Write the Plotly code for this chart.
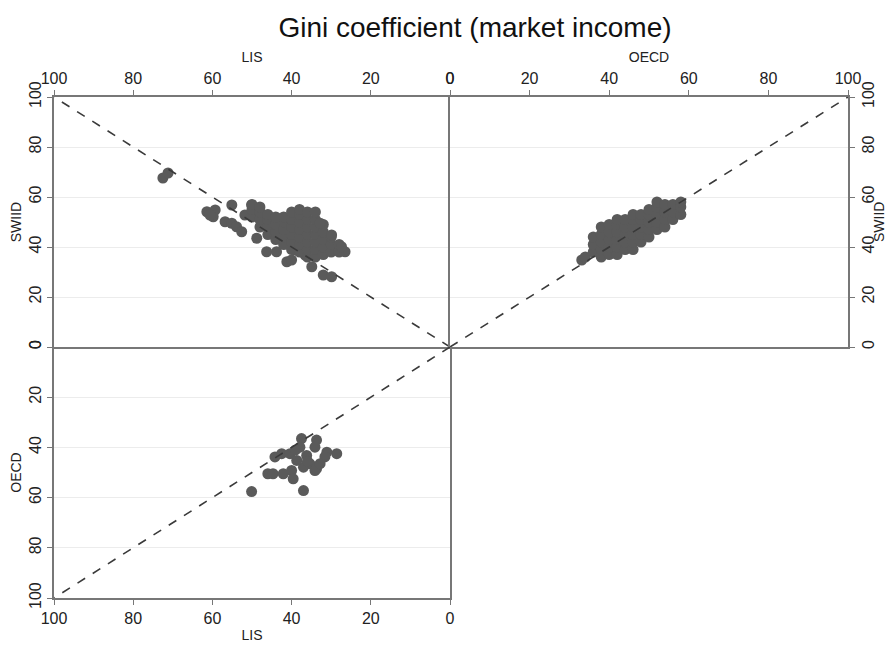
import plotly.graph_objects as go

# ---- Data ----
# Panel 1: LIS (x) vs SWIID (y)
lis_swiid_lis = [72.5, 71.2, 61.4, 59.3, 59.8, 60.6, 55.1, 56.8, 55.1, 53.9, 52.6, 51.8, 50.1,
                 48.8, 46.3, 43.8, 41.2, 40.0, 34.9, 32.0, 29.9, 26.5, 28.2, 36.6, 39.1,
                 50, 50, 50, 48, 48, 48, 48, 46, 46, 46, 46, 44, 44, 44, 44,
                 42, 42, 42, 42, 42, 40, 40, 40, 40, 40, 40, 38, 38, 38, 38, 38, 38, 38,
                 36, 36, 36, 36, 36, 36, 36, 34, 34, 34, 34, 34, 34, 34,
                 32, 32, 32, 32, 32, 30, 30, 30, 28, 28, 27.4, 29.9, 32.8]
lis_swiid_swiid = [67.6, 69.6, 54.1, 54.8, 52.1, 52.8, 56.8, 50.1, 49.5, 48.1, 46.1, 52.8, 56.8,
                   43.5, 38.1, 38.1, 34.1, 34.8, 32.1, 28.8, 28.1, 38.1, 38.8, 36.8, 38.8,
                   52, 55, 57, 48, 51, 54, 56, 45, 48, 51, 53, 43, 46, 49, 52,
                   41, 44, 47, 50, 52, 39, 42, 45, 48, 51, 54, 38, 41, 44, 47, 50, 53, 55,
                   36, 39, 42, 45, 48, 51, 54, 36, 39, 42, 45, 48, 51, 54,
                   37, 40, 43, 46, 49, 38, 41, 44, 38, 41, 40.1, 44.8, 49.5]

# Panel 2: OECD (x) vs SWIID (y)
oecd_swiid_oecd = [33.1, 34.0, 36, 36, 36, 38, 38, 38, 38, 38, 40, 40, 40, 40, 40,
                   42, 42, 42, 42, 42, 42, 44, 44, 44, 44, 44, 46, 46, 46, 46, 46, 46,
                   48, 48, 48, 48, 48, 50, 50, 50, 50, 50, 52, 52, 52, 52, 52,
                   54, 54, 54, 54, 56, 56, 56, 58, 58, 58]
oecd_swiid_swiid = [34.8, 36.0, 38, 41, 44, 36, 39, 42, 45, 48, 37, 40, 43, 46, 49,
                    37, 40, 43, 46, 49, 51, 39, 42, 45, 48, 51, 39, 42, 45, 48, 51, 53,
                    42, 45, 48, 51, 53, 44, 47, 50, 53, 55, 47, 50, 53, 56, 58,
                    48, 51, 54, 57, 51, 54, 57, 53, 56, 58]

# Panel 3: LIS (x) vs OECD (y)
lis_oecd_lis = [50.1, 37.0, 46.0, 44.7, 42.1, 40.0, 39.6, 44.2, 42.5, 40.4, 37.5, 37.9, 36.2,
                33.7, 34.1, 35.4, 34.1, 37.0, 31.1, 31.6, 28.6, 33.7, 38.7, 32.8, 36.0, 39.0]
lis_oecd_oecd = [57.6, 57.2, 50.5, 50.5, 50.5, 49.2, 52.5, 43.8, 42.5, 42.5, 36.5, 39.9, 43.2,
                 37.1, 39.9, 46.5, 49.2, 47.9, 41.9, 43.8, 42.5, 48.5, 45.2, 46.5, 45.5, 41.0]

diag = [0, 100]
ticks = [0, 20, 40, 60, 80, 100]

# ---- Styling ----
FONT = "Liberation Sans, Arial, Helvetica, sans-serif"
MARKER = dict(color="#5a5a5a", size=11, line=dict(width=0))
DASH = dict(color="#3a3a3a", width=1.6, dash="dash")
AX_LINE = "#777777"
GRID = "#ececec"

# the page body adds an 8px margin, so the figure is sized/placed to compensate
OFF = 8
W, H = 895 - OFF, 645 - OFF
xl0, xmid, xr1 = (54 - OFF) / W, (450 - OFF) / W, (848 - OFF) / W
ytop, ymid, ybot = 1 - (97 - OFF) / H, 1 - (347 - OFF) / H, 1 - (598 - OFF) / H

fig = go.Figure()
fig.add_trace(go.Scatter(x=lis_swiid_lis, y=lis_swiid_swiid, mode="markers", marker=MARKER,
                         xaxis="x", yaxis="y", showlegend=False))
fig.add_trace(go.Scatter(x=oecd_swiid_oecd, y=oecd_swiid_swiid, mode="markers", marker=MARKER,
                         xaxis="x2", yaxis="y2", showlegend=False))
fig.add_trace(go.Scatter(x=lis_oecd_lis, y=lis_oecd_oecd, mode="markers", marker=MARKER,
                         xaxis="x3", yaxis="y3", showlegend=False))
for xa, ya in [("x", "y"), ("x2", "y2"), ("x3", "y3")]:
    fig.add_trace(go.Scatter(x=diag, y=diag, mode="lines", line=DASH,
                             xaxis=xa, yaxis=ya, showlegend=False, hoverinfo="skip"))

def axis(**kw):
    base = dict(tickvals=ticks, ticktext=[str(t) for t in ticks], ticks="outside", ticklen=5,
                tickwidth=1.2, tickcolor=AX_LINE, showline=True, linecolor=AX_LINE, linewidth=1.5,
                mirror=True, zeroline=False, automargin=False,
                tickfont=dict(size=16, color="#222", family=FONT),
                title_font=dict(size=14, color="#222", family=FONT))
    base.update(kw)
    return base

fig.update_layout(
    width=W, height=H,
    margin=dict(l=0, r=0, t=0, b=0, autoexpand=False),
    paper_bgcolor="white", plot_bgcolor="white",
    font=dict(family=FONT, color="#222"),
    title=dict(text="Gini coefficient (market income)", x=(475 - OFF) / W, xanchor="center",
               y=1 - (27 - OFF) / H, yanchor="middle", font=dict(size=28, color="#111", family=FONT)),
    xaxis=axis(domain=[xl0, xmid], range=[100, 0], side="top", anchor="y", showgrid=False,
               title=dict(text="LIS", standoff=4)),
    yaxis=axis(domain=[ymid, ytop], range=[0, 100], side="left", anchor="x", showgrid=True,
               mirror=False, gridcolor=GRID, gridwidth=1, tickangle=-90,
               title=dict(text="SWIID", standoff=4)),
    xaxis2=axis(domain=[xmid, xr1], range=[0, 100], side="top", anchor="y2", showgrid=False,
                title=dict(text="OECD", standoff=4)),
    yaxis2=axis(domain=[ymid, ytop], range=[0, 100], side="right", anchor="x2", showgrid=True,
                gridcolor=GRID, gridwidth=1, tickangle=-90),
    xaxis3=axis(domain=[xl0, xmid], range=[100, 0], side="bottom", anchor="y3", showgrid=False,
                mirror=False, title=dict(text="LIS", standoff=4)),
    yaxis3=axis(domain=[ybot, ymid], range=[100, 0], side="left", anchor="x3", showgrid=True,
                gridcolor=GRID, gridwidth=1, tickangle=-90, title=dict(text="OECD", standoff=4)),
    annotations=[dict(text="SWIID", textangle=-90, xref="paper", yref="paper",
                      x=(879 - OFF) / W, y=(ymid + ytop) / 2, xanchor="center", yanchor="middle",
                      showarrow=False, font=dict(size=14, color="#222", family=FONT))],
)

fig.write_html("out.html")
